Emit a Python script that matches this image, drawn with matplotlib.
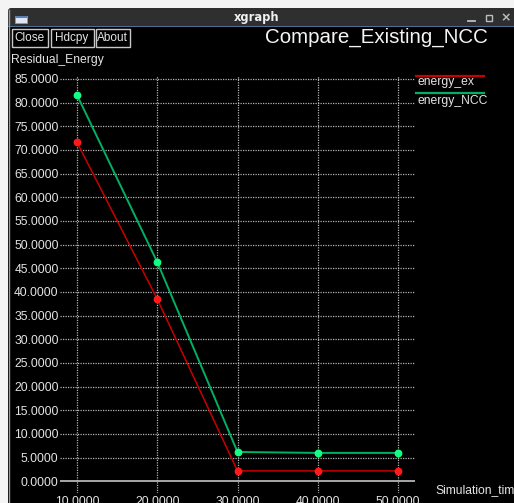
import matplotlib
matplotlib.use("Agg")
import matplotlib.pyplot as plt
from matplotlib.patches import Rectangle, FancyBboxPatch

# ---- data ----
sim_time = [10, 20, 30, 40, 50]
energy_ex = [71.6, 38.5, 2.2, 2.2, 2.2]
energy_ncc = [81.6, 46.3, 6.2, 6.0, 6.0]
series_names = ["energy_ex", "energy_NCC"]
y_ticks = [0, 5, 10, 15, 20, 25, 30, 35, 40, 45, 50, 55, 60, 65, 70, 75, 80, 85]
x_ticks = [10, 20, 30, 40, 50]
chart_title = "Compare_Existing_NCC"
y_label = "Residual_Energy"
x_label = "Simulation_time"
buttons = ["Close", "Hdcpy", "About"]

W, H = 514, 503
FONT = "Liberation Sans"
TXT = "#e4e4e4"

fig = plt.figure(figsize=(W / 100, H / 100), dpi=100, facecolor="#f4f4f4")

# ---- window frame, drawn in pixel coordinates ----
bg = fig.add_axes([0, 0, 1, 1])
bg.set_xlim(0, W)
bg.set_ylim(H, 0)
bg.axis("off")

bg.add_patch(FancyBboxPatch((8, 8), W, 30, boxstyle="round,pad=0,rounding_size=3",
                            facecolor="#2f2f2f", edgecolor="none"))
bg.add_patch(Rectangle((8, 26), W - 8, 1.2, facecolor="#4f6e91", edgecolor="none"))
bg.add_patch(Rectangle((8, 27.2), W - 8, H - 27, facecolor="#000000", edgecolor="none"))
bg.plot([8.5, 8.5], [10, H], color="#9a9a9a", lw=1)

# window icon
bg.add_patch(Rectangle((15, 16), 12, 7, facecolor="#dfe6f2", edgecolor="#8a9ab0", lw=0.6))
bg.add_patch(Rectangle((15, 16), 12, 2, facecolor="#5a7fb5", edgecolor="none"))

bg.text(257, 17.5, "xgraph", color="#f0f0f0", fontsize=8.3, fontweight="bold",
        family="DejaVu Sans", ha="center", va="center")
bg.plot([468, 475], [20.5, 20.5], color="#bdbdbd", lw=1.3)
bg.add_patch(Rectangle((486, 14.5), 6, 6, facecolor="none", edgecolor="#bdbdbd", lw=1))
bg.text(506, 17.5, "\u00d7", color="#bdbdbd", fontsize=9, fontweight="bold",
        family="DejaVu Sans", ha="center", va="center")

# buttons
btn_boxes = [(11, 47), (50, 93), (95, 129)]
for name, (x0, x1) in zip(buttons, btn_boxes):
    bg.add_patch(Rectangle((x0 + 0.5, 28.5), x1 - x0, 18.5, facecolor="none",
                           edgecolor="#c8c8c8", lw=1))
    bg.text((x0 + x1) / 2 + 0.5, 38, name, color=TXT, fontsize=8.5, family=FONT,
            ha="center", va="center")

bg.text(265, 43, chart_title, color="#f4f4f4", fontsize=14.8, family=FONT,
        ha="left", va="baseline")
bg.text(11, 63, y_label, color=TXT, fontsize=8.7, family=FONT, ha="left", va="baseline")
bg.text(435, 493, x_label, color=TXT, fontsize=8.7, family=FONT, ha="left", va="baseline")

# ---- plot area ----
line_colors = ["#c80000", "#00b064"]
marker_colors = ["#ff1a1a", "#12ff84"]

ax = fig.add_axes([60 / W, 1 - 493 / H, 355 / W, 417 / H])
ax.set_facecolor("none")
ax.set_xlim(7.88, 52.12)
ax.set_ylim(-2.47, 85.63)
for s in ax.spines.values():
    s.set_visible(False)

grid_kw = dict(color="#b4b4b4", lw=0.9, linestyle=(0, (1, 1)), zorder=1)
for yv in y_ticks:
    if yv == 0:
        ax.axhline(yv, color="#a8a8a8", lw=1.4, zorder=1)
    else:
        ax.axhline(yv, **grid_kw)
for xv in x_ticks:
    ax.axvline(xv, **grid_kw)

for vals, lc, mc, lw in zip([energy_ex, energy_ncc], line_colors, marker_colors, [1.1, 1.4]):
    ax.plot(sim_time, vals, color=lc, lw=lw, zorder=3)
    ax.plot(sim_time, vals, linestyle="none", marker="o", markersize=4.6,
            markerfacecolor=mc, markeredgecolor=mc, zorder=4)

ax.set_yticks(y_ticks)
ax.set_yticklabels([f"{v:.4f}" for v in y_ticks])
ax.set_xticks(x_ticks)
ax.set_xticklabels([f"{v:.4f}" for v in x_ticks])
ax.tick_params(length=0, colors=TXT, labelsize=8.7)
ax.tick_params(axis="y", pad=1)
ax.tick_params(axis="x", pad=2.2)
for lab in ax.get_xticklabels() + ax.get_yticklabels():
    lab.set_family(FONT)

# legend at the right of the plot
legend_rows = [(75.7, 85), (93, 103.5)]
for name, lc, (ly, ty) in zip(series_names, line_colors, legend_rows):
    bg.plot([416, 484], [ly, ly], color=lc, lw=1.6)
    bg.text(417, ty, name, color=TXT, fontsize=8.7, family=FONT, ha="left", va="baseline")

fig.savefig("out.png", dpi=100, facecolor=fig.get_facecolor())
